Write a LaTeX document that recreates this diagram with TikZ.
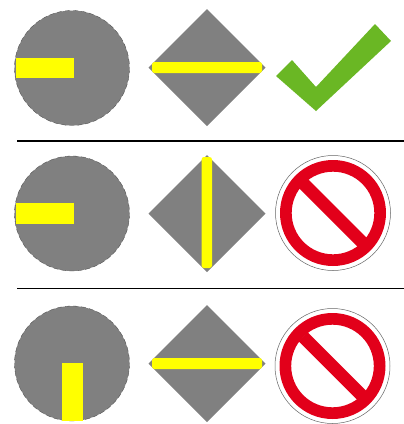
\documentclass[tikz,border=0pt]{standalone}
\definecolor{shapegray}{RGB}{128,128,128}
\definecolor{baryellow}{RGB}{255,255,0}
\definecolor{checkgreen}{RGB}{106,183,36}
\definecolor{signred}{RGB}{226,0,26}
\tikzset{
  grayshape/.style={fill=shapegray,draw=none},
  barshape/.style={fill=baryellow,draw=none},
  roundbar/.style={fill=baryellow,draw=none,rounded corners=2.5pt},
  rule/.style={draw=black,line cap=butt},
}
\newcommand{\grayround}[2]{%
  \fill[grayshape] (#1,#2) circle (57.5);
  \draw[black!70,line width=0.35pt,dash pattern=on 5pt off 3pt] (#1,#2) circle (57.5);
}
\newcommand{\graydiamond}[2]{%
  \fill[grayshape] (#1-58.5,#2) -- (#1,#2-58.5) -- (#1+58.5,#2) -- (#1,#2+58.5) -- cycle;
}
\newcommand{\nosign}[2]{%
  \draw[black!60,line width=0.5pt] (#1,#2) circle (57.5);
  \fill[signred,even odd rule] (#1,#2) circle (53) (#1,#2) circle (41.3);
  \begin{scope}[shift={(#1,#2)}]
    \fill[signred] (-34,-25) -- (-25,-34) -- (34,25) -- (25,34) -- cycle;
  \end{scope}
}
\begin{document}
\begin{tikzpicture}[x=1pt,y=-1pt]
\useasboundingbox[fill=white] (0,0) rectangle (404,424);
% row 1
\grayround{72}{68}
\fill[barshape] (16,57.5) rectangle (73.5,78);
\graydiamond{207}{67.5}
\fill[roundbar] (152,62) rectangle (262,73);
\fill[checkgreen] (276,76) -- (292,60) -- (316,87) -- (375,24) -- (391,41) -- (316,111) -- cycle;
\draw[rule,line width=2.2pt] (17,141) -- (404,141);
% row 2
\grayround{72}{213.5}
\fill[barshape] (16,203) rectangle (73.5,224);
\graydiamond{207}{213.5}
\fill[roundbar] (201.5,157) rectangle (212,268);
\nosign{333}{213}
\draw[rule,line width=1.3pt] (17,288.7) -- (404,288.7);
% row 3
\grayround{72}{363.5}
\fill[barshape] (62,363) rectangle (82.5,420.5);
\graydiamond{207}{363.5}
\fill[roundbar] (152,358) rectangle (262,369);
\nosign{332.5}{366}
\end{tikzpicture}
\end{document}
